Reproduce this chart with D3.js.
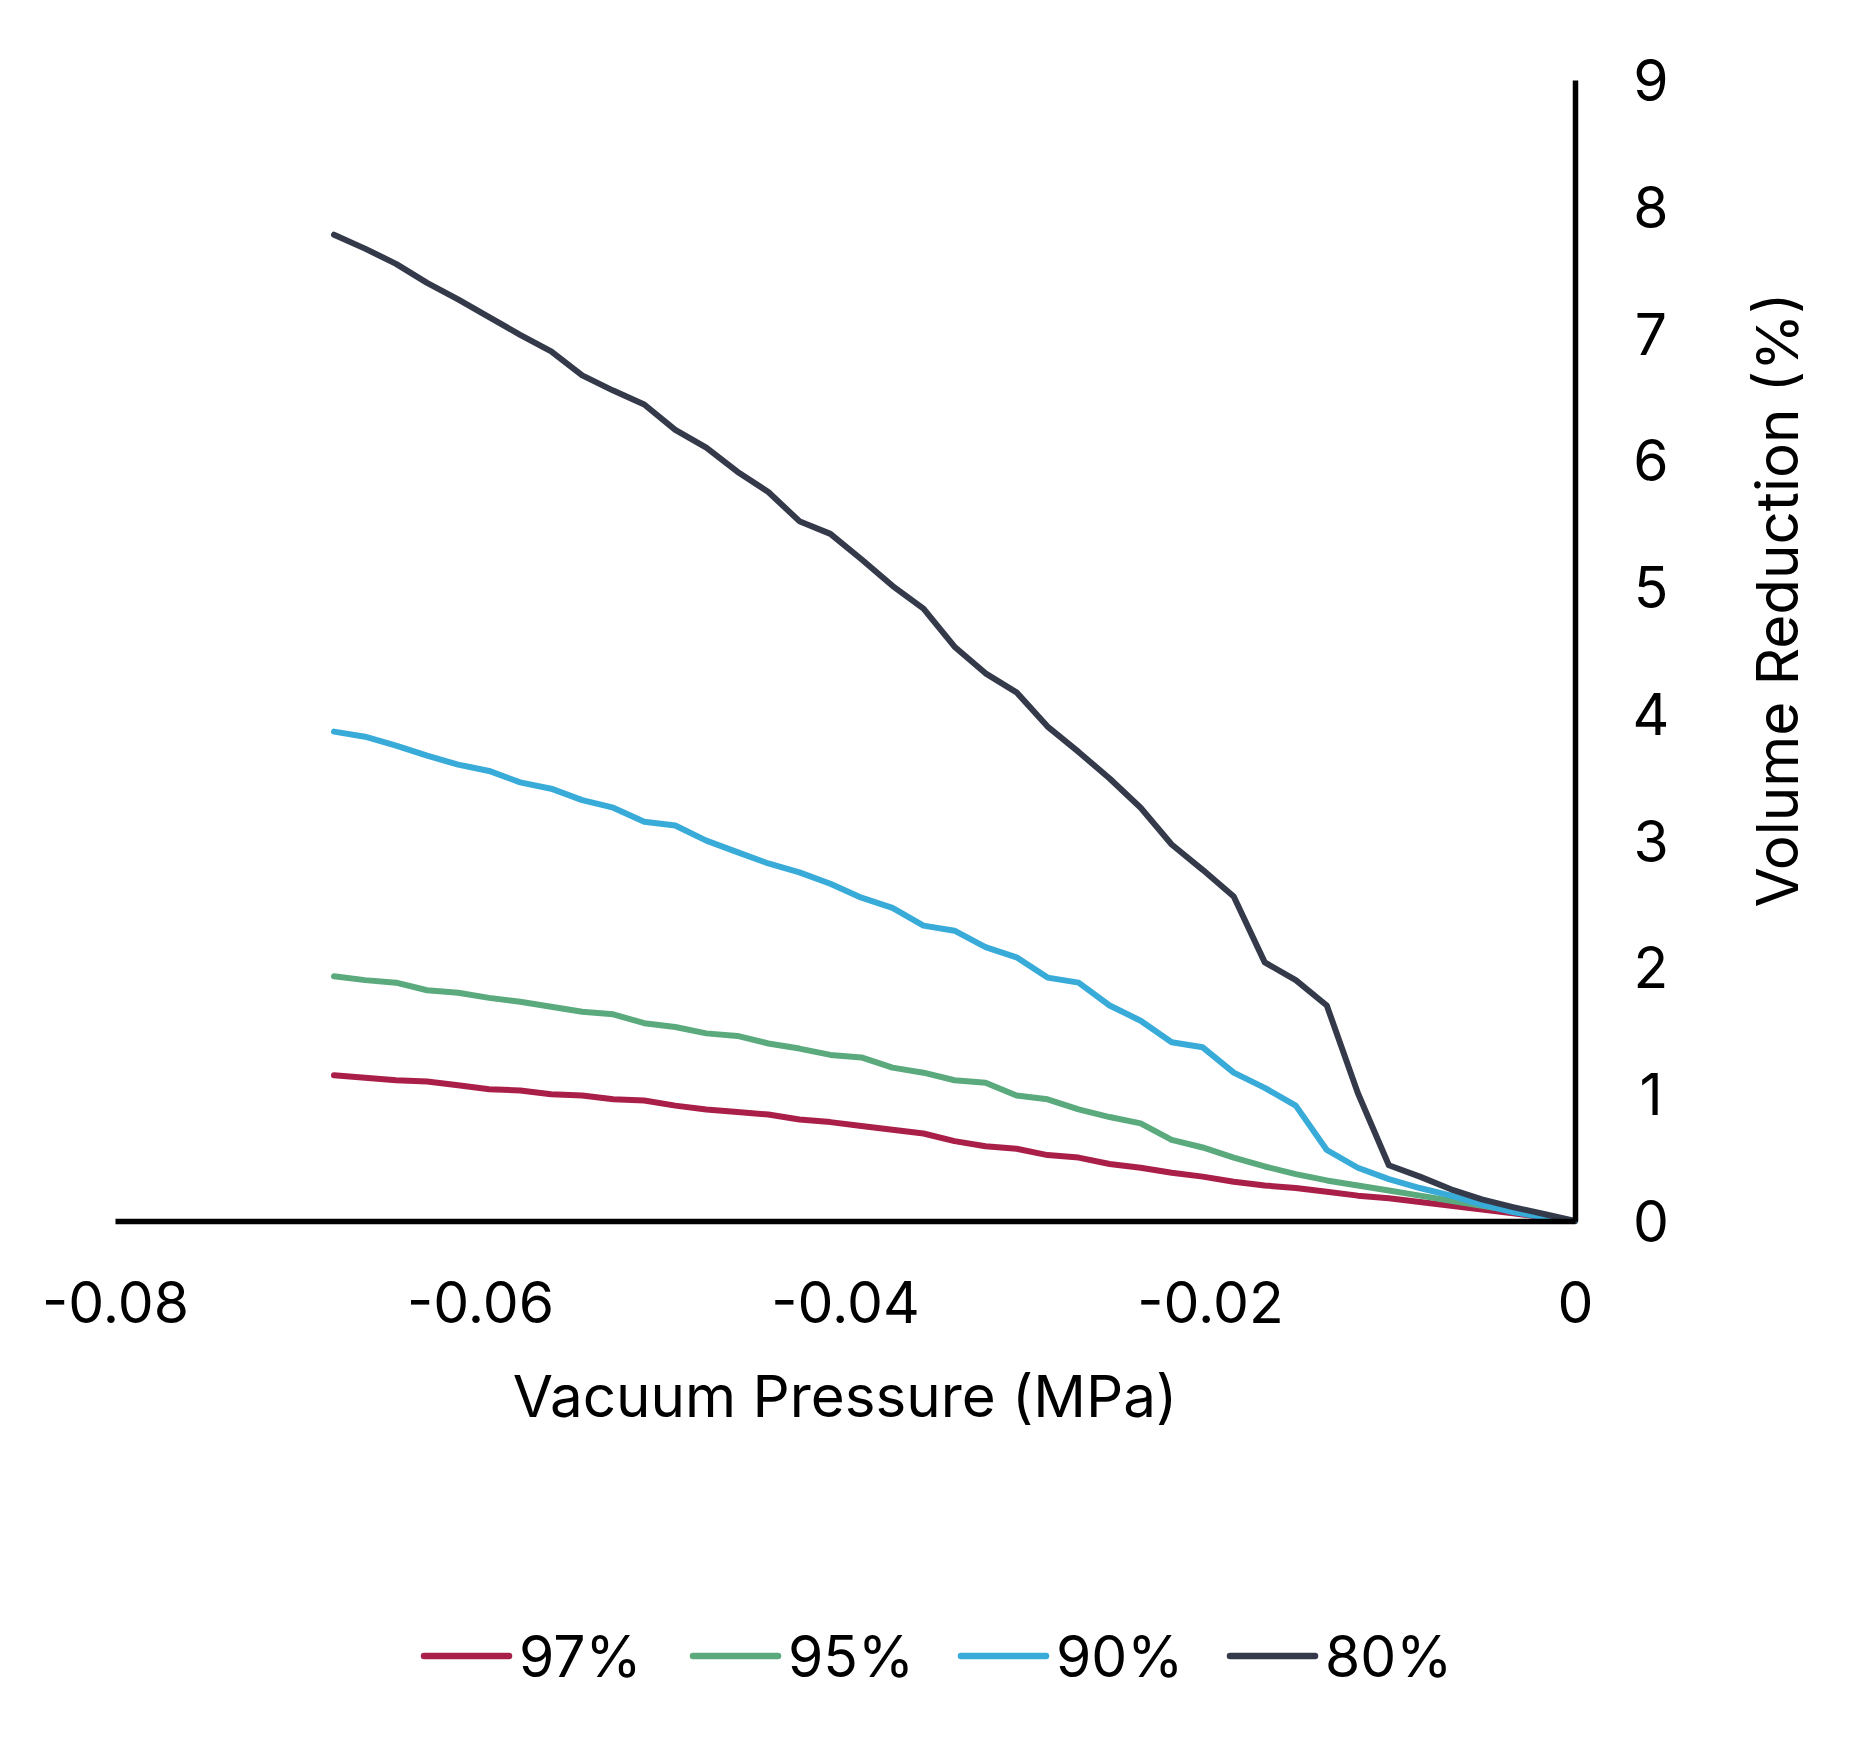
<!DOCTYPE html>
<html>
<head>
<meta charset="utf-8">
<script src="https://cdn.jsdelivr.net/npm/d3@7"></script>
<style>
  html, body { margin: 0; padding: 0; background: #fff; }
  svg { display: block; }
  text { font-family: Inter, Roboto, "Noto Sans", sans-serif; fill: #000; }
</style>
</head>
<body>
<svg id="chart" width="1855" height="1737"></svg>
<script>
// ---- data ----
const pressure = [-0.0680, -0.0663, -0.0646, -0.0629, -0.0612, -0.0595, -0.0578, -0.0561, -0.0544, -0.0527,
  -0.0510, -0.0493, -0.0476, -0.0459, -0.0442, -0.0425, -0.0408, -0.0391, -0.0374, -0.0357,
  -0.0340, -0.0323, -0.0306, -0.0289, -0.0272, -0.0255, -0.0238, -0.0221, -0.0204, -0.0187,
  -0.0170, -0.0153, -0.0136, -0.0119, -0.0102, -0.0085, -0.0068, -0.0051, -0.0034, -0.0017, 0];

const s97 = [1.15, 1.13, 1.11, 1.10, 1.07, 1.04, 1.03, 1.00, 0.99, 0.96,
  0.95, 0.91, 0.88, 0.86, 0.84, 0.80, 0.78, 0.75, 0.72, 0.69,
  0.63, 0.59, 0.57, 0.52, 0.50, 0.45, 0.42, 0.38, 0.35, 0.31,
  0.28, 0.26, 0.23, 0.20, 0.18, 0.15, 0.12, 0.09, 0.06, 0.03, 0];
const s95 = [1.93, 1.90, 1.88, 1.82, 1.80, 1.76, 1.73, 1.69, 1.65, 1.63,
  1.56, 1.53, 1.48, 1.46, 1.40, 1.36, 1.31, 1.29, 1.21, 1.17,
  1.11, 1.09, 0.99, 0.96, 0.88, 0.82, 0.77, 0.64, 0.58, 0.50,
  0.43, 0.37, 0.32, 0.28, 0.24, 0.20, 0.16, 0.12, 0.08, 0.04, 0];
const s90 = [3.86, 3.82, 3.75, 3.67, 3.60, 3.55, 3.46, 3.41, 3.32, 3.26,
  3.15, 3.12, 3.00, 2.91, 2.82, 2.75, 2.66, 2.55, 2.47, 2.33,
  2.29, 2.16, 2.08, 1.92, 1.88, 1.70, 1.58, 1.41, 1.37, 1.17,
  1.05, 0.91, 0.56, 0.42, 0.33, 0.26, 0.20, 0.13, 0.07, 0.03, 0];
const s80 = [7.78, 7.67, 7.55, 7.40, 7.27, 7.13, 6.99, 6.86, 6.67, 6.55,
  6.44, 6.24, 6.10, 5.91, 5.75, 5.52, 5.42, 5.22, 5.01, 4.83,
  4.53, 4.32, 4.17, 3.90, 3.70, 3.49, 3.26, 2.97, 2.77, 2.56,
  2.04, 1.90, 1.70, 1.01, 0.44, 0.35, 0.25, 0.17, 0.11, 0.055, 0];

const seriesNames = ["97%", "95%", "90%", "80%"];
const seriesValues = [s97, s95, s90, s80];
const seriesColors = ["#A91F48", "#5BAA7E", "#38ABD8", "#353A4B"];

const xTicks = [-0.08, -0.06, -0.04, -0.02, 0];
const xTickLabels = ["-0.08", "-0.06", "-0.04", "-0.02", "0"];
const yTicks = [0, 1, 2, 3, 4, 5, 6, 7, 8, 9];

const xTitle = "Vacuum Pressure (MPa)";
const yTitle = "Volume Reduction (%)";

// ---- layout ----
const svg = d3.select("#chart");
const plotLeft = 115, plotRight = 1575, plotTop = 80, plotBottom = 1221;
const FONT = "Inter, Roboto, sans-serif";
const FS = 57;
const FS_TITLE = 58.3;

const x = d3.scaleLinear().domain([-0.08, 0]).range([plotLeft, plotRight]);
const y = d3.scaleLinear().domain([0, 9]).range([plotBottom, plotTop]);

// lines
const line = d3.line().x((d, i) => x(pressure[i])).y(d => y(d));
const g = svg.append("g");
seriesValues.forEach((vals, k) => {
  g.append("path")
    .datum(vals)
    .attr("d", line)
    .attr("fill", "none")
    .attr("stroke", seriesColors[k])
    .attr("stroke-width", 6)
    .attr("stroke-linejoin", "round")
    .attr("stroke-linecap", "round");
});

// x axis
const xAxis = d3.axisBottom(x).tickValues(xTicks)
  .tickFormat((d, i) => xTickLabels[i]).tickSize(0).tickSizeOuter(0);
const gx = svg.append("g").attr("transform", `translate(0,${plotBottom})`).call(xAxis);
gx.select(".domain").attr("stroke", "#000").attr("stroke-width", 5.5);
gx.selectAll("text")
  .attr("dy", null).attr("y", 81)
  .attr("dominant-baseline", "central")
  .style("font-size", FS + "px")
  .style("font-family", FONT)
  .attr("fill", "#000");

// y axis
const yAxis = d3.axisRight(y).tickValues(yTicks).tickSize(0).tickSizeOuter(0).tickFormat(d3.format("d"));
const gy = svg.append("g").attr("transform", `translate(${plotRight},0)`).call(yAxis);
gy.select(".domain").attr("stroke", "#000").attr("stroke-width", 5.5);
gy.selectAll("text")
  .attr("x", 76).attr("dy", null)
  .attr("text-anchor", "middle")
  .attr("dominant-baseline", "central")
  .style("font-size", FS + "px")
  .style("font-family", FONT)
  .attr("fill", "#000");

// axis titles
svg.append("text")
  .attr("x", (plotLeft + plotRight) / 2).attr("y", 1396)
  .attr("text-anchor", "middle").attr("dominant-baseline", "central")
  .style("font-size", FS_TITLE + "px")
  .text(xTitle);

svg.append("text")
  .attr("transform", "translate(1777,600) rotate(-90)")
  .attr("text-anchor", "middle").attr("dominant-baseline", "central")
  .style("font-size", FS_TITLE + "px")
  .text(yTitle);

// legend
const legendX = [421, 690, 958, 1227];
const legendY = 1656;
const lg = svg.append("g");
seriesNames.forEach((name, k) => {
  lg.append("line")
    .attr("x1", legendX[k] + 3).attr("x2", legendX[k] + 88)
    .attr("y1", legendY).attr("y2", legendY)
    .attr("stroke", seriesColors[k]).attr("stroke-width", 6.5)
    .attr("stroke-linecap", "round");
  lg.append("text")
    .attr("x", legendX[k] + 98).attr("y", legendY)
    .attr("dominant-baseline", "central")
    .style("font-size", FS + "px")
    .text(name);
});
</script>
</body>
</html>
